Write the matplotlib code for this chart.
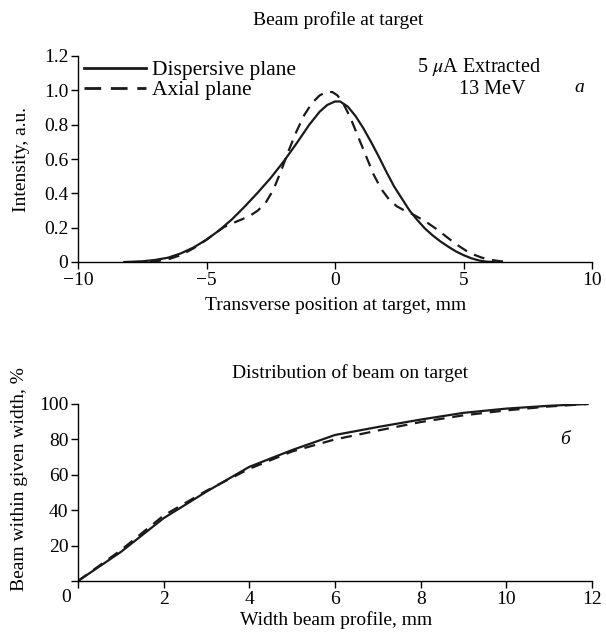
import numpy as np
import matplotlib
matplotlib.use("Agg")
import matplotlib.pyplot as plt
from matplotlib.lines import Line2D

plt.rcParams['font.family'] = ['Liberation Serif', 'DejaVu Serif']
plt.rcParams['mathtext.fontset'] = 'stix'

# ---- data: beam profile at target ----
disp_x = [-8.2, -7.5, -7.0, -6.5, -6.0, -5.5, -5.0, -4.5, -4.0, -3.5, -3.0, -2.5,
          -2.0, -1.5, -1.0, -0.6, -0.3, 0.0, 0.2, 0.5, 0.8, 1.1, 1.4, 1.7, 2.0,
          2.3, 2.6, 2.9, 3.2, 3.5, 3.8, 4.1, 4.4, 4.7, 5.0, 5.3, 5.6, 5.9, 6.2]
disp_y = [0.0, 0.004, 0.012, 0.025, 0.05, 0.085, 0.13, 0.185, 0.25, 0.325, 0.405,
          0.49, 0.585, 0.69, 0.80, 0.875, 0.915, 0.935, 0.935, 0.905, 0.85, 0.78,
          0.70, 0.615, 0.525, 0.44, 0.37, 0.30, 0.245, 0.195, 0.155, 0.12, 0.09,
          0.062, 0.04, 0.022, 0.009, 0.002, 0.0]

axial_x = [-7.2, -6.8, -6.4, -6.0, -5.5, -5.0, -4.6, -4.3, -4.0, -3.6, -3.3, -3.0,
           -2.7, -2.4, -2.1, -1.8, -1.5, -1.2, -0.9, -0.6, -0.35, -0.1, 0.1, 0.35,
           0.6, 0.9, 1.2, 1.5, 1.8, 2.1, 2.4, 2.7, 3.0, 3.3, 3.6, 3.9, 4.2, 4.5,
           4.8, 5.1, 5.4, 5.7, 6.0, 6.4, 6.8]
axial_y = [0.0, 0.008, 0.02, 0.04, 0.08, 0.13, 0.175, 0.205, 0.225, 0.25, 0.27,
           0.30, 0.345, 0.42, 0.53, 0.65, 0.76, 0.855, 0.925, 0.97, 0.99, 0.99,
           0.97, 0.915, 0.84, 0.73, 0.62, 0.51, 0.425, 0.365, 0.325, 0.30, 0.28,
           0.255, 0.228, 0.197, 0.163, 0.128, 0.095, 0.066, 0.043, 0.026, 0.014,
           0.005, 0.0]

# ---- data: distribution of beam on target ----
width_mm = [0, 1, 2, 3, 4, 5, 6, 7, 8, 9, 10, 11, 11.9]
disp_pct = [0, 16.4, 35.5, 50.5, 64.5, 74.0, 82.5, 87.0, 91.2, 95.0, 97.4, 99.0, 100]
axial_pct = [0, 17.4, 37.0, 51.0, 63.4, 73.2, 80.0, 85.0, 89.8, 93.6, 96.4, 98.6, 100]

W, H = 606, 633
fig = plt.figure(figsize=(W / 100, H / 100), dpi=100)
fs = 14
col = '#1a1a1a'
dash = (0, (5, 3.5))


def fx(px):
    return px / W


def fy(py):
    return 1 - py / H


def style_axes(ax):
    for s in ['top', 'right']:
        ax.spines[s].set_visible(False)
    for s in ['left', 'bottom']:
        ax.spines[s].set_linewidth(1.0)
    ax.tick_params(direction='out', length=5, width=1.0, labelsize=fs, pad=2)


# ============================================================
# top panel
# ============================================================
ax1 = fig.add_axes([fx(78), fy(262), fx(592) - fx(78), fy(56) - fy(262)])
ax1.plot(disp_x, disp_y, color=col, lw=1.6)
ax1.plot(axial_x, axial_y, color=col, lw=1.6, ls=dash)
ax1.set_xlim(-10, 10)
ax1.set_ylim(0, 1.2)
ax1.set_xticks([-10, -5, 0, 5, 10])
ax1.set_xticklabels(['\u221210', '\u22125', '0', '5', '10'])
ax1.set_yticks([0, 0.2, 0.4, 0.6, 0.8, 1.0, 1.2])
ax1.set_yticklabels(['0', '0.2', '0.4', '0.6', '0.8', '1.0', '1.2'])
style_axes(ax1)

handles = [Line2D([], [], color=col, lw=2.0),
           Line2D([], [], color=col, lw=2.0, ls=(0, (6, 3.5)))]
fig.legend(handles, ['Dispersive plane', 'Axial plane'], loc='upper left',
           bbox_to_anchor=(fx(80), fy(56)), frameon=False, fontsize=15.5,
           handlelength=2.85, handletextpad=0.3, labelspacing=0.0, borderaxespad=0.0,
           borderpad=0.2)

fig.text(fx(479), fy(67), '5 $\\mathit{\\mu}$A Extracted', fontsize=14.5, ha='center', va='center')
fig.text(fx(492), fy(89), '13 MeV', fontsize=14.5, ha='center', va='center')
fig.text(fx(579), fy(88), 'a', fontsize=fs, ha='center', va='center', style='italic')
fig.text(fx(338), fy(20), 'Beam profile at target', fontsize=fs, ha='center', va='center')
fig.text(fx(336), fy(305), 'Transverse position at target, mm', fontsize=fs, ha='center', va='center')
fig.text(fx(22), fy(160), 'Intensity, a.u.', fontsize=fs, ha='center', va='center', rotation=90)

# ============================================================
# bottom panel
# ============================================================
ax2 = fig.add_axes([fx(78), fy(581), fx(592) - fx(78), fy(404) - fy(581)])
ax2.plot(width_mm, disp_pct, color=col, lw=1.6)
ax2.plot(width_mm, axial_pct, color=col, lw=1.6, ls=dash)
ax2.set_xlim(0, 12)
ax2.set_ylim(0, 100)
ax2.set_xticks([0, 2, 4, 6, 8, 10, 12])
ax2.set_xticklabels(['', '2', '4', '6', '8', '10', '12'])
ax2.set_yticks([0, 20, 40, 60, 80, 100])
ax2.set_yticklabels(['', '20', '40', '60', '80', '100'])
style_axes(ax2)
ax2.text(11.37, 80, '\u0431', fontsize=fs, ha='center', va='center', style='italic')
fig.text(fx(350), fy(373), 'Distribution of beam on target', fontsize=fs, ha='center', va='center')
fig.text(fx(336), fy(620), 'Width beam profile, mm', fontsize=fs, ha='center', va='center')
fig.text(fx(20), fy(479), 'Beam within given width, %', fontsize=fs, ha='center', va='center', rotation=90)
fig.text(fx(66), fy(597), '0', fontsize=fs, ha='center', va='center')

fig.savefig('out.png', dpi=100)
